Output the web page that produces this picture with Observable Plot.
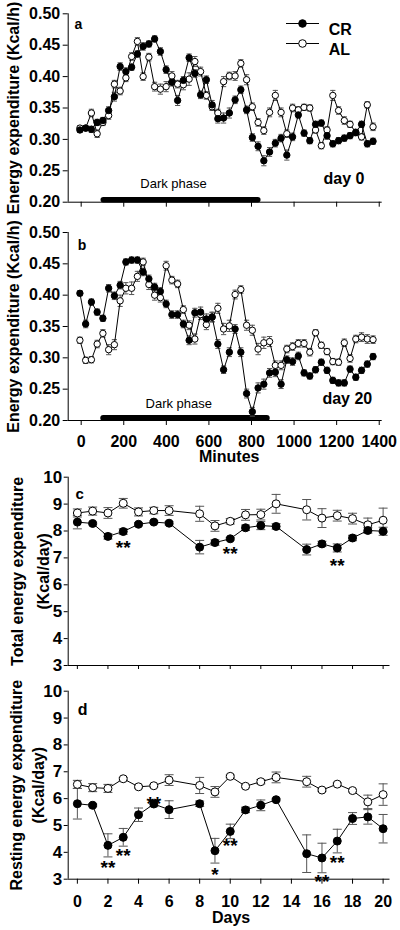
<!DOCTYPE html>
<html><head><meta charset="utf-8">
<script src="https://cdn.jsdelivr.net/npm/d3@7"></script>
<script src="https://cdn.jsdelivr.net/npm/@observablehq/plot@0.6"></script>
<style>
html,body{margin:0;padding:0;background:#fff;}
#chart{position:relative;width:400px;height:930px;overflow:hidden;background:#fff;}
#chart > div{position:absolute;left:0;width:400px;}
</style></head><body><div id="chart"></div>
<script>
// ---------- Panels a & b : time of day ----------
const minutes = [-6,21,48,75,102,129,156,183,210,237,264,291,318,345,372,399,426,453,480,507,534,561,588,615,642,669,696,723,750,777,804,831,858,885,912,939,966,993,1020,1047,1074,1101,1128,1155,1182,1209,1236,1263,1290,1317,1344,1371];
const crDay0 = [0.315,0.318,0.316,0.327,0.330,0.346,0.368,0.416,0.408,0.415,0.436,0.448,0.452,0.460,0.440,0.411,0.391,0.362,0.394,0.430,0.405,0.371,0.395,0.355,0.333,0.334,0.342,0.363,0.379,0.347,0.303,0.289,0.266,0.280,0.294,0.302,0.275,0.304,0.339,0.310,0.298,0.324,0.326,0.306,0.293,0.298,0.302,0.306,0.311,0.324,0.293,0.297];
const crDay0Err = [0.004,0.004,0.005,0.005,0.005,0.006,0.007,0.006,0.006,0.005,0.005,0.006,0.005,0.005,0.006,0.006,0.006,0.008,0.006,0.006,0.006,0.006,0.006,0.007,0.007,0.008,0.008,0.006,0.006,0.006,0.006,0.007,0.008,0.007,0.006,0.006,0.008,0.006,0.005,0.005,0.005,0.005,0.005,0.006,0.005,0.005,0.005,0.005,0.005,0.005,0.005,0.005];
const alDay0 = [0.318,0.318,0.342,0.309,0.327,0.338,0.388,0.377,0.398,0.432,0.456,0.400,0.431,0.384,0.380,0.384,0.401,0.388,0.387,0.396,0.424,0.408,0.370,0.352,0.342,0.392,0.401,0.401,0.421,0.395,0.352,0.327,0.314,0.343,0.370,0.343,0.309,0.350,0.347,0.351,0.350,0.315,0.290,0.315,0.370,0.346,0.330,0.324,0.311,0.304,0.355,0.320];
const alDay0Err = [0.004,0.004,0.006,0.006,0.005,0.006,0.006,0.006,0.006,0.006,0.006,0.006,0.006,0.007,0.008,0.008,0.007,0.006,0.008,0.010,0.008,0.007,0.006,0.006,0.006,0.008,0.006,0.007,0.006,0.008,0.006,0.006,0.006,0.007,0.008,0.007,0.006,0.006,0.005,0.005,0.005,0.005,0.005,0.005,0.008,0.006,0.006,0.005,0.005,0.005,0.005,0.006];
const crDay20 = [0.403,0.354,0.389,0.373,0.363,0.411,0.399,0.416,0.453,0.456,0.456,0.437,0.426,0.413,0.406,0.386,0.369,0.369,0.354,0.328,0.372,0.373,0.362,0.365,0.322,0.281,0.309,0.346,0.309,0.243,0.214,0.252,0.258,0.276,0.277,0.258,0.297,0.294,0.303,0.276,0.271,0.281,0.293,0.280,0.264,0.260,0.260,0.282,0.269,0.280,0.290,0.302];
const crDay20Err = [0.004,0.006,0.005,0.005,0.005,0.006,0.006,0.006,0.005,0.005,0.005,0.006,0.006,0.006,0.006,0.006,0.006,0.006,0.006,0.007,0.007,0.008,0.008,0.007,0.007,0.006,0.007,0.007,0.007,0.007,0.007,0.008,0.008,0.007,0.007,0.007,0.006,0.006,0.006,0.005,0.005,0.005,0.005,0.005,0.005,0.005,0.005,0.005,0.005,0.005,0.005,0.005];
const alDay20 = [0.328,0.296,0.297,0.322,0.339,0.313,0.321,0.391,0.411,0.411,0.430,0.453,0.417,0.400,0.396,0.447,0.424,0.418,0.377,0.352,0.330,0.369,0.353,0.365,0.379,0.346,0.351,0.401,0.409,0.352,0.344,0.314,0.324,0.326,0.288,0.288,0.314,0.318,0.323,0.323,0.309,0.340,0.320,0.310,0.294,0.293,0.324,0.299,0.330,0.333,0.330,0.329];
const alDay20Err = [0.005,0.005,0.005,0.006,0.006,0.008,0.008,0.009,0.009,0.010,0.008,0.006,0.008,0.008,0.007,0.007,0.006,0.006,0.006,0.007,0.008,0.008,0.008,0.008,0.008,0.009,0.009,0.007,0.006,0.008,0.008,0.009,0.009,0.008,0.007,0.007,0.006,0.006,0.006,0.006,0.006,0.005,0.005,0.005,0.005,0.005,0.006,0.006,0.006,0.007,0.007,0.006];
const minuteTicks = [0,200,400,600,800,1000,1200,1400];
const eeTicks = [0.20,0.25,0.30,0.35,0.40,0.45,0.50];
const darkPhaseDay0 = [106, 832];
const darkPhaseDay20 = [106, 874];

// ---------- Panels c & d : days ----------
const days = [0,1,2,3,4,5,6,8,9,10,11,12,13,15,16,17,18,19,20];
const crTotal = [8.33,8.28,7.80,7.98,8.25,8.33,8.29,7.40,7.57,7.71,8.12,8.20,8.17,7.31,7.52,7.37,7.74,8.02,7.99];
const crTotalErr = [0.25,0.05,0.10,0.10,0.06,0.05,0.06,0.25,0.10,0.05,0.10,0.15,0.10,0.20,0.10,0.15,0.10,0.10,0.15];
const alTotal = [8.67,8.74,8.67,9.03,8.71,8.76,8.76,8.64,8.19,8.36,8.60,8.61,9.01,8.79,8.48,8.57,8.46,8.23,8.40];
const alTotalErr = [0.15,0.15,0.20,0.18,0.15,0.12,0.18,0.28,0.20,0.10,0.20,0.20,0.35,0.38,0.35,0.20,0.20,0.25,0.45];
const crRest = [5.81,5.75,4.26,4.56,5.40,5.80,5.59,5.81,4.06,4.78,5.58,5.75,5.96,3.95,3.79,4.42,5.26,5.32,4.88];
const crRestErr = [0.57,0.05,0.43,0.33,0.25,0.10,0.33,0.10,0.46,0.27,0.10,0.20,0.05,0.70,0.55,0.44,0.22,0.27,0.53];
const alRest = [6.53,6.41,6.38,6.74,6.44,6.48,6.69,6.49,6.25,6.83,6.46,6.63,6.79,6.63,6.32,6.54,6.30,5.88,6.15];
const alRestErr = [0.15,0.15,0.15,0.05,0.05,0.05,0.20,0.30,0.20,0.05,0.05,0.08,0.20,0.20,0.05,0.05,0.05,0.25,0.40];
const dayTicks = [0,2,4,6,8,10,12,14,16,18,20];
const kcalTicks = [3,4,5,6,7,8,9,10];
const starTotalDays = [3,10,17];
const starTotalLevels = [7.52,7.28,6.84];
const starTotalLabels = ["**","**","**"];
const starRestDays = [2,3,5,9,10,16,17];
const starRestLevels = [3.54,4.00,5.95,3.29,4.38,3.02,3.73];
const starRestLabels = ["**","**","**","*","**","**","**"];

const legendNames = ["CR","AL"];
const legendFills = ["black","white"];

// ---------- helpers ----------
const FONT = "'Liberation Sans', Arial, sans-serif";
const capSymbol = {draw(ctx, size){ const w = Math.sqrt(size/Math.PI); ctx.moveTo(-w,0); ctx.lineTo(w,0); }};
const plain = d => String(d);
function series(xs, ys, es){ return xs.map((x,i)=>({x, y: ys[i], e: es[i]})); }
function dataMarks(cr, al, r, cap){
  const all = al.concat(cr);
  return [
    Plot.ruleX(all, {x:"x", y1: d=>d.y-d.e, y2: d=>d.y+d.e, stroke:"#555", strokeWidth:1}),
    Plot.dot(all, {x:"x", y: d=>d.y-d.e, symbol: capSymbol, r: cap, stroke:"#555", fill:"none", strokeWidth:1}),
    Plot.dot(all, {x:"x", y: d=>d.y+d.e, symbol: capSymbol, r: cap, stroke:"#555", fill:"none", strokeWidth:1}),
    Plot.line(al, {x:"x", y:"y", stroke:"black", strokeWidth:1}),
    Plot.line(cr, {x:"x", y:"y", stroke:"black", strokeWidth:1}),
    Plot.dot(al, {x:"x", y:"y", r, fill:"white", stroke:"black", strokeWidth:1}),
    Plot.dot(cr, {x:"x", y:"y", r, fill:"black", stroke:"black", strokeWidth:1})
  ];
}
function place(svg, top){
  const div = document.createElement("div");
  div.style.top = top + "px";
  div.appendChild(svg);
  document.getElementById("chart").appendChild(div);
}
const baseStyle = {fontFamily: FONT, fontSize:"16px", fontWeight:"bold", color:"black", background:"white", overflow:"visible"};
const minDomain = [-61, 1414];
const eeDomain = [0.20, 0.50];
const dayDomain = [-0.6, 20.45];
const kcalDomain = [3, 10];

function yTitle(title, dx, lh){
  return Plot.text([title], {text: d=>d, frameAnchor:"left", textAnchor:"middle", rotate:-90, dx, fontSize:16, fontWeight:"bold", lineAnchor:"middle", lineHeight: lh || 1});
}

// ---------- Panel a ----------
const panelA = Plot.plot({
  width:400, height:215, marginLeft:67.7, marginRight:18.3, marginTop:13.3, marginBottom:13.3,
  x:{domain:minDomain}, y:{domain:eeDomain},
  style: baseStyle,
  marks:[
    Plot.ruleY([eeDomain[0]], {stroke:"black"}),
    Plot.ruleX([minDomain[0]], {stroke:"black"}),
    Plot.axisY({ticks:eeTicks, tickFormat:d3.format(".2f"), tickSize:5, tickPadding:3, label:null}),
    Plot.axisX({ticks:minuteTicks, tickFormat:()=>"", tickSize:5, label:null}),
    Plot.ruleY([eeDomain[0]], {x1:darkPhaseDay0[0], x2:darkPhaseDay0[1], dy:-2.5, strokeWidth:5.5, strokeLinecap:"round", stroke:"black"}),
    Plot.text(["Dark phase"], {text:d=>d, x:(darkPhaseDay0[0]+darkPhaseDay0[1])/2, y:eeDomain[0], dx:-7.5, dy:-18.7, fontSize:13, fontWeight:"normal"}),
    Plot.text(["day 0"], {text:d=>d, frameAnchor:"bottom-right", dx:-17.7, dy:-18.7, textAnchor:"end", fontSize:16}),
    Plot.text(["a"], {text:d=>d, frameAnchor:"top-left", dx:6.3, dy:5, textAnchor:"start", fontSize:14}),
    yTitle("Energy expenditure (Kcal/h)", -54),
    ...dataMarks(series(minutes, crDay0, crDay0Err), series(minutes, alDay0, alDay0Err), 3.2, 2.6),
    ...legendNames.flatMap((name, i) => [
      Plot.dot([name], {frameAnchor:"top-right", dx:-79.7, dy:9.7 + 20*i, symbol:capSymbol, r:16.5, stroke:"black", fill:"none", strokeWidth:1}),
      Plot.dot([name], {frameAnchor:"top-right", dx:-79.7, dy:9.7 + 20*i, r:3.8, fill:legendFills[i], stroke:"black", strokeWidth:1}),
      Plot.text([name], {text:d=>d, frameAnchor:"top-right", dx:-53.4, dy:9.7 + 20*i, textAnchor:"start", fontSize:16})
    ])
  ]
});
place(panelA, 0);

// ---------- Panel b ----------
const panelB = Plot.plot({
  width:400, height:255, marginLeft:67.7, marginRight:18.3, marginTop:17, marginBottom:50,
  x:{domain:minDomain}, y:{domain:eeDomain},
  style: baseStyle,
  marks:[
    Plot.ruleY([eeDomain[0]], {stroke:"black"}),
    Plot.ruleX([minDomain[0]], {stroke:"black"}),
    Plot.axisY({ticks:eeTicks, tickFormat:d3.format(".2f"), tickSize:5, tickPadding:3, label:null}),
    Plot.axisX({ticks:minuteTicks, tickFormat:plain, tickSize:5, tickPadding:10, label:null}),
    Plot.text(["Minutes"], {text:d=>d, frameAnchor:"bottom", dx:4, dy:41.7, fontSize:16}),
    Plot.ruleY([eeDomain[0]], {x1:darkPhaseDay20[0], x2:darkPhaseDay20[1], dy:-2.5, strokeWidth:6, strokeLinecap:"round", stroke:"black"}),
    Plot.text(["Dark phase"], {text:d=>d, x:(darkPhaseDay20[0]+darkPhaseDay20[1])/2, y:eeDomain[0], dx:-6.7, dy:-16.7, fontSize:13, fontWeight:"normal"}),
    Plot.text(["day 20"], {text:d=>d, frameAnchor:"bottom-right", dx:-10, dy:-16.7, textAnchor:"end", fontSize:16}),
    Plot.text(["b"], {text:d=>d, frameAnchor:"top-left", dx:9.6, dy:8, textAnchor:"start", fontSize:14}),
    yTitle("Energy expenditure (Kcal/h)", -54),
    ...dataMarks(series(minutes, crDay20, crDay20Err), series(minutes, alDay20, alDay20Err), 3.2, 2.6)
  ]
});
place(panelB, 215);

// ---------- Panel c ----------
const panelC = Plot.plot({
  width:400, height:210, marginLeft:67.7, marginRight:10.5, marginTop:6.7, marginBottom:15,
  x:{domain:dayDomain}, y:{domain:kcalDomain},
  style: baseStyle,
  marks:[
    Plot.ruleY([kcalDomain[0]], {stroke:"black"}),
    Plot.ruleX([dayDomain[0]], {stroke:"black"}),
    Plot.axisY({ticks:kcalTicks, tickFormat:plain, tickSize:4, tickPadding:2, label:null, fontSize:17}),
    Plot.axisX({ticks:dayTicks, tickFormat:()=>"", tickSize:4, label:null}),
    Plot.text(["c"], {text:d=>d, frameAnchor:"top-left", dx:7.3, dy:11.6, textAnchor:"start", fontSize:15}),
    yTitle("Total energy expenditure\n(Kcal/day)", -40.2, 1.6),
    ...dataMarks(series(days, crTotal, crTotalErr), series(days, alTotal, alTotalErr), 4, 4.5),
    Plot.text(starTotalDays, {x:d=>d, y:(d,i)=>starTotalLevels[i], text:(d,i)=>starTotalLabels[i], fontSize:19, dy:3.5})
  ]
});
place(panelC, 470);

// ---------- Panel d ----------
const panelD = Plot.plot({
  width:400, height:250, marginLeft:67.7, marginRight:10.5, marginTop:10.7, marginBottom:51.3,
  x:{domain:dayDomain}, y:{domain:kcalDomain},
  style: baseStyle,
  marks:[
    Plot.ruleY([kcalDomain[0]], {stroke:"black"}),
    Plot.ruleX([dayDomain[0]], {stroke:"black"}),
    Plot.axisY({ticks:kcalTicks, tickFormat:plain, tickSize:4, tickPadding:2, label:null, fontSize:17}),
    Plot.axisX({ticks:dayTicks, tickFormat:plain, tickSize:5, tickPadding:11, label:null, fontSize:16}),
    Plot.text(["Days"], {text:d=>d, frameAnchor:"bottom", dx:2, dy:43.5, fontSize:16}),
    Plot.text(["d"], {text:d=>d, frameAnchor:"top-left", dx:9.6, dy:12, textAnchor:"start", fontSize:16}),
    yTitle("Resting energy expenditure\n(Kcal/day)", -42, 1.35),
    ...dataMarks(series(days, crRest, crRestErr), series(days, alRest, alRestErr), 4, 4.5),
    Plot.text(starRestDays, {x:d=>d, y:(d,i)=>starRestLevels[i], text:(d,i)=>starRestLabels[i], fontSize:19, dy:3.5})
  ]
});
place(panelD, 680);
</script></body></html>
